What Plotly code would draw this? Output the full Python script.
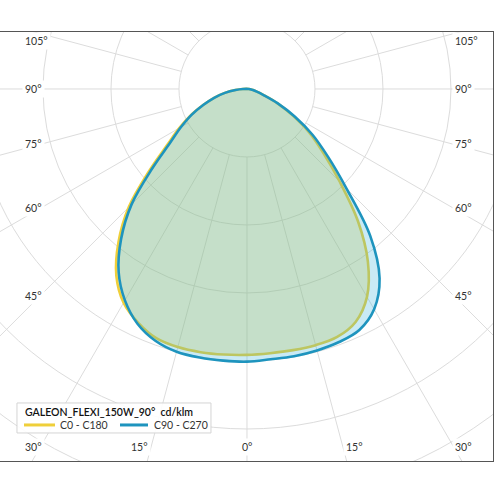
import numpy as np
import plotly.graph_objects as go

# Lichtstärkeverteilung, Werte in cd/klm, Winkel ab Nadir
angles = [0, 5, 10, 15, 20, 25, 30, 35, 40, 45, 50, 55, 60, 65, 70, 75, 80, 85, 90]
c0 = [391, 390, 390, 390, 388, 378, 353, 310, 254, 193, 147, 112, 77, 49, 26, 15, 9, 5, 3]
c180 = [391, 392, 393, 393, 390, 379, 363, 335, 294, 246, 188, 143, 115, 91, 68, 50, 33, 17, 6]
c90 = [401, 399, 399, 398, 396, 391, 374, 340, 282, 207, 156, 118, 81, 50, 26, 15, 9, 5, 3]
c270 = [401, 401, 401, 400, 394, 381, 359, 329, 288, 240, 182, 138, 112, 90, 68, 50, 33, 17, 6]

rings = [100, 200, 300, 400, 500, 600, 700]
spokes = list(range(0, 360, 15))
side_labels = [105, 90, 75, 60, 45, 30]
bottom_labels = [15, 0]

title = "GALEON_FLEXI_150W_90°\u00a0\u00a0cd/klm"
yellow = "#efcf3a"
blue = "#1e94be"
grid = "#dcdcdc"
font = "Lato"

# Pixel -> Diagrammkoordinaten (Mittelpunkt 247/89, 0.68 px je cd/klm)
SCALE = 0.68


def px(x, y):
    return (x - 247) / SCALE, (89 - y) / SCALE


def to_xy(left, right):
    """linke Halbebene (C180/C270) + rechte Halbebene (C0/C90), geschlossen"""
    a = np.array(angles, dtype=float)
    th = np.radians(np.concatenate([-a[::-1], a[1:]]))
    r = np.concatenate([np.array(left[::-1], float), np.array(right[1:], float)])
    x, y = r * np.sin(th), -r * np.cos(th)
    return np.append(x, x[0]), np.append(y, y[0])


fig = go.Figure()

curves = [
    (c180, c0, yellow, "rgba(240,210,60,0.30)", "C0 - C180"),
    (c270, c90, blue, "rgba(40,170,215,0.25)", "C90 - C270"),
]
for left, right, col, fillcol, name in curves:
    x, y = to_xy(left, right)
    fig.add_trace(go.Scatter(
        x=x, y=y, mode="lines", fill="toself", fillcolor=fillcol,
        line=dict(color=col, width=2.6, shape="spline", smoothing=1.0),
        name=name, hoverinfo="skip", showlegend=False,
    ))

# Raster: Kreise und Strahlen
shapes = []
for r in rings:
    shapes.append(dict(type="circle", xref="x", yref="y", x0=-r, y0=-r, x1=r, y1=r,
                       line=dict(color=grid, width=1), layer="below"))
for s in spokes:
    t = np.radians(s)
    shapes.append(dict(type="line", xref="x", yref="y",
                       x0=100 * np.sin(t), y0=-100 * np.cos(t),
                       x1=1000 * np.sin(t), y1=-1000 * np.cos(t),
                       line=dict(color=grid, width=1), layer="below"))

# Winkelbeschriftung am Rahmen
annotations = []
lab_dx, lab_bottom, lab_top = 304, -526, 70
lab_left, _ = px(22, 0)
lab_right, _ = px(452, 0)
lab_font = dict(size=10.5, color="#333", family=font)
for s in side_labels:
    t = np.radians(s)
    y = -lab_dx * np.cos(t) / np.sin(t)
    y = min(max(y, lab_bottom), lab_top)
    for xpos in [lab_left, lab_right]:
        annotations.append(dict(x=xpos, y=y, text=f"{s}°", showarrow=False,
                                xanchor="left", yanchor="middle", bgcolor="white",
                                borderpad=2, font=lab_font))
for s in bottom_labels:
    t = np.radians(s)
    dx = -lab_bottom * np.tan(t)
    sides = [(0, "center")] if s == 0 else [(-1, "right"), (1, "left")]
    for sign, anchor in sides:
        annotations.append(dict(x=sign * dx, y=lab_bottom, text=f"{s}°", showarrow=False,
                                xanchor=anchor, yanchor="middle", bgcolor="white",
                                borderpad=2, font=lab_font))

# Legende als Kasten
x0, y0 = px(17, 403)
x1, y1 = px(211, 433)
shapes.append(dict(type="rect", xref="x", yref="y", x0=x0, y0=y0, x1=x1, y1=y1,
                   fillcolor="rgba(255,255,255,0.9)", line=dict(color="#d4d4d4", width=1)))
tx, ty = px(23, 412)
annotations.append(dict(x=tx, y=ty, text=title, showarrow=False, xanchor="left",
                        yanchor="middle",
                        font=dict(size=10.5, color="#111", family=font, weight=600)))
for (lx0, lx1, txt_x), col, (_, _, _, _, name) in zip(
        [(24, 55, 58), (120, 148, 152)], [yellow, blue], curves):
    ax0, ay = px(lx0, 425)
    ax1, _ = px(lx1, 425)
    shapes.append(dict(type="line", xref="x", yref="y", x0=ax0, y0=ay, x1=ax1, y1=ay,
                       line=dict(color=col, width=3)))
    nx, _ = px(txt_x, 425)
    annotations.append(dict(x=nx, y=ay, text=name, showarrow=False, xanchor="left",
                            yanchor="middle", font=dict(size=10.5, color="#333", family=font)))

fig.update_layout(
    width=494, height=494,
    margin=dict(l=0, r=1, t=32, b=33),
    paper_bgcolor="white", plot_bgcolor="white",
    font=dict(family=font, color="#333"),
    shapes=shapes, annotations=annotations,
    showlegend=False,
    xaxis=dict(range=[-363.2, 361.8], showgrid=False, zeroline=False, showticklabels=False,
               showline=True, mirror=True, linecolor="#555", linewidth=1, fixedrange=True),
    yaxis=dict(range=[-547.1, 83.8], showgrid=False, zeroline=False, showticklabels=False,
               showline=True, mirror=True, linecolor="#555", linewidth=1, fixedrange=True),
)

fig.write_html("out.html", config={"displayModeBar": False},
               post_script="document.body.style.margin='0';")
